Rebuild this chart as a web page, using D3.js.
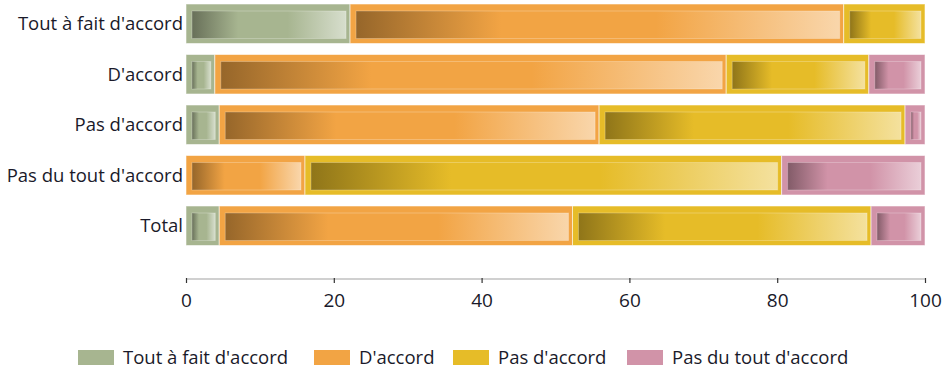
<!DOCTYPE html>
<html><head><meta charset="utf-8">
<script src="https://cdn.jsdelivr.net/npm/d3@7"></script>
<style>
html,body{margin:0;padding:0;background:#fff;}
svg{display:block;}
text{font-family:"Open Sans",sans-serif;fill:#1a1a2a;}
</style></head>
<body>
<svg id="c" width="948" height="374"></svg>
<script>
const categories = ["Tout à fait d'accord","D'accord","Pas d'accord","Pas du tout d'accord","Total"];
const seriesNames = ["Tout à fait d'accord","D'accord","Pas d'accord","Pas du tout d'accord"];
const toutAFait = [22.2, 3.9, 4.5, 0, 4.5];
const dAccord   = [66.8, 69.2, 51.4, 16.1, 47.8];
const pasDAccord= [11.0, 19.3, 41.4, 64.5, 40.4];
const pasDuTout = [0, 7.6, 2.7, 19.4, 7.3];
const xTicks = [0,20,40,60,80,100];
const colors = ["#a7b590","#f2a444","#e6bc28","#d193a8"];

const svg = d3.select("#c");
const x = d3.scaleLinear().domain([0,100]).range([186,925]);
const y = d3.scaleBand().domain(categories).range([-1.5,251]).paddingInner(0.218).paddingOuter(0.109);

const series = [toutAFait,dAccord,pasDAccord,pasDuTout];
const rows = categories.map((c,i)=>{const o={cat:c}; seriesNames.forEach((s,j)=>o[s]=series[j][i]); return o;});
const stacked = d3.stack().keys(seriesNames)(rows);

const defs = svg.append("defs");
colors.forEach((c,i)=>{
  const dark=d3.interpolateRgb(c,"#000")(0.38);
  const light=d3.interpolateRgb(c,"#fff")(0.55);
  const g=defs.append("linearGradient").attr("id","g"+i).attr("x1","0").attr("x2","1").attr("y1","0").attr("y2","0");
  g.append("stop").attr("offset","0").attr("stop-color",dark);
  g.append("stop").attr("offset","0.3").attr("stop-color",c);
  g.append("stop").attr("offset","0.62").attr("stop-color",c);
  g.append("stop").attr("offset","1").attr("stop-color",light);
});

stacked.forEach((s,i)=>{
  const grp=svg.append("g");
  s.forEach((d,k)=>{
    const w=x(d[1])-x(d[0]);
    if(w<=0.5) return;
    const yy=y(d.data.cat), h=y.bandwidth();
    grp.append("rect").attr("x",x(d[0])).attr("y",yy).attr("width",w).attr("height",h)
      .attr("fill",colors[i]).attr("stroke","rgba(255,255,255,0.55)").attr("stroke-width",1);
    const inX=x(d[0])+6, inW=w-10;
    if(inW>1){
      grp.append("rect").attr("x",inX).attr("y",yy+7).attr("width",inW).attr("height",h-12)
        .attr("fill","url(#g"+i+")").attr("stroke","rgba(255,255,255,0.25)").attr("stroke-width",1);
    }
  });
});

// category labels
svg.append("g").selectAll("text").data(categories).join("text")
  .attr("x",183).attr("y",d=>y(d)+y.bandwidth()/2).attr("dy","0.35em")
  .attr("text-anchor","end").attr("font-size",18.5).text(d=>d);

// x axis
const axisY=279;
svg.append("line").attr("x1",x(0)).attr("x2",x(100)).attr("y1",axisY).attr("y2",axisY)
  .attr("stroke","#d0d0d0").attr("stroke-width",2);
const ax=svg.append("g").attr("transform",`translate(0,${axisY})`)
  .call(d3.axisBottom(x).tickValues(xTicks).tickSize(4).tickPadding(11).tickFormat(d3.format("d")));
ax.select(".domain").remove();
ax.selectAll(".tick line").attr("stroke","#333").attr("stroke-width",1.2).attr("y1",-1);
ax.selectAll(".tick text").attr("font-size",19).attr("font-family","Open Sans, sans-serif").attr("fill","#1a1a2a");

// legend
const legX=[78,314,453,627];
const leg=svg.append("g");
seriesNames.forEach((s,i)=>{
  leg.append("rect").attr("x",legX[i]).attr("y",350).attr("width",36).attr("height",15).attr("fill",colors[i]);
  leg.append("text").attr("x",legX[i]+45).attr("y",358).attr("dy","0.35em").attr("font-size",18.5).text(s);
});
</script>
</body></html>
